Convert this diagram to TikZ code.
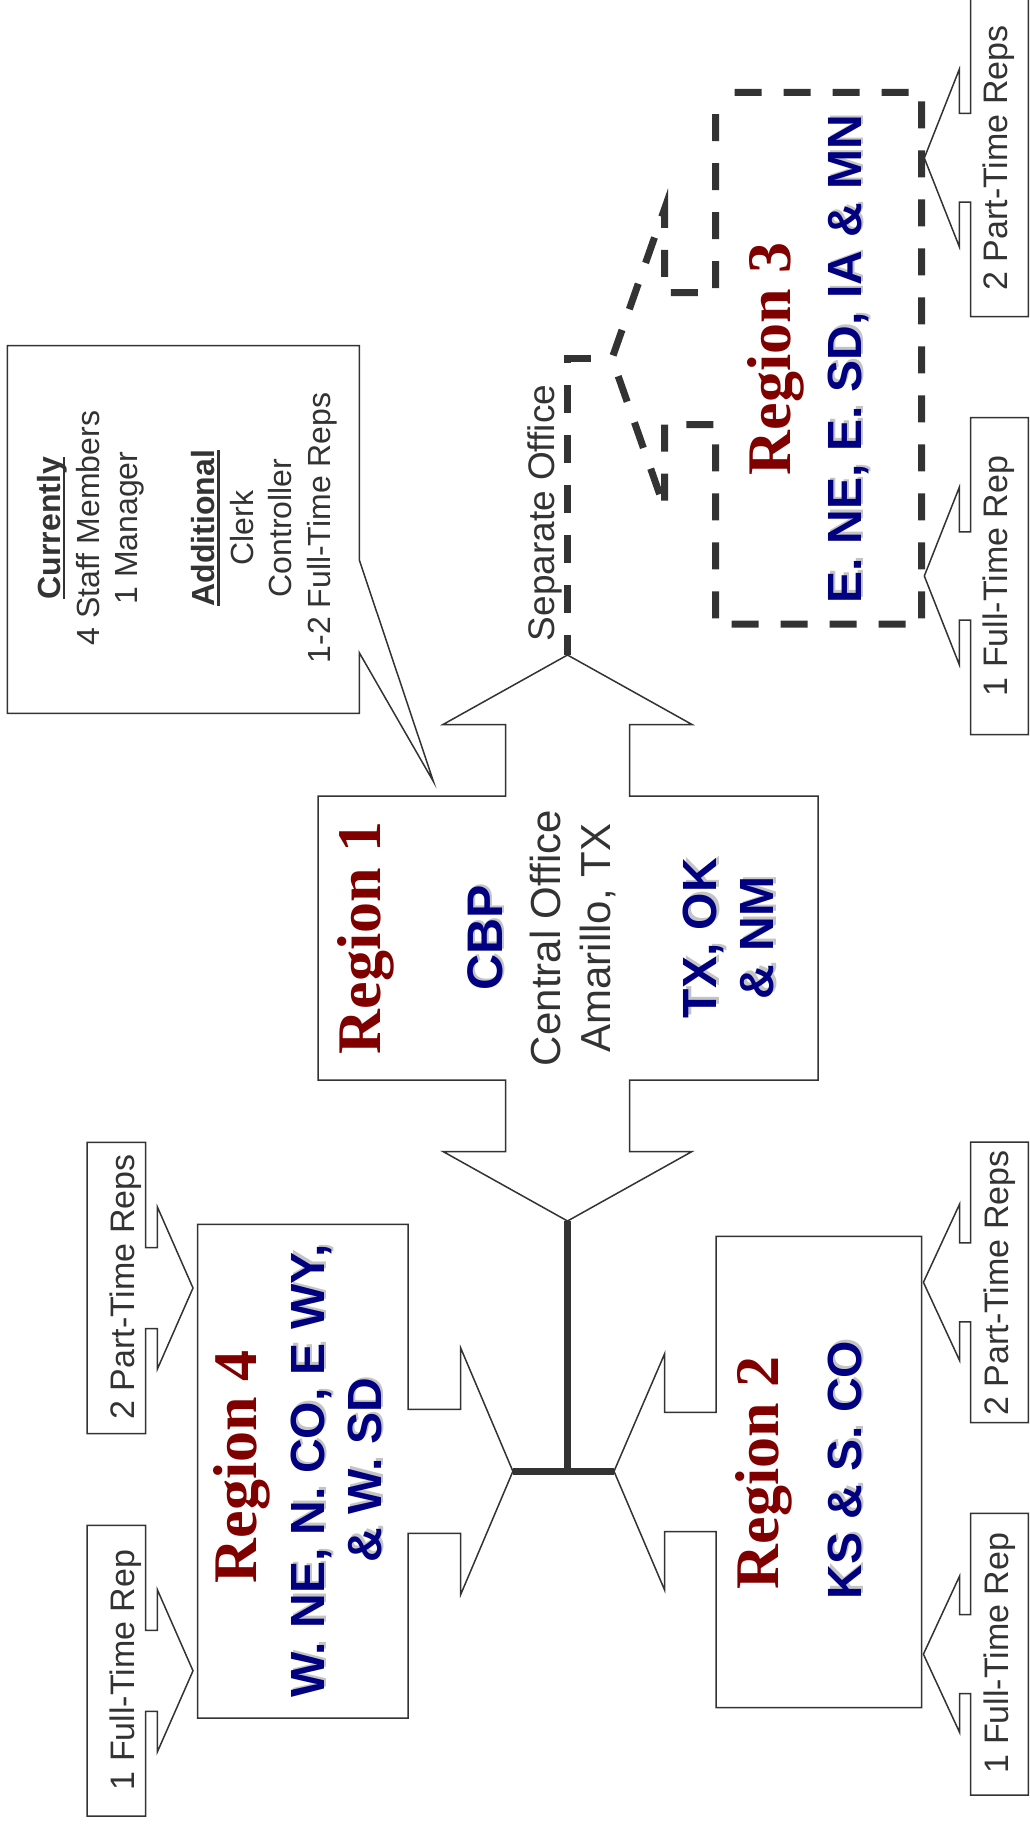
\documentclass[tikz,border=0pt]{standalone}
\usepackage{fontspec}
\setmainfont{Liberation Sans}
\newfontfamily\serifbf{Liberation Serif}
\definecolor{lc}{HTML}{333333}
\definecolor{dred}{HTML}{800000}
\definecolor{navyc}{HTML}{000080}
\definecolor{shd}{HTML}{C4C4C4}
\newcommand\myul[1]{\setbox0\hbox{#1}\rlap{\rule[-5pt]{\wd0}{2.4pt}}\box0}
\newcommand\stext[4]{\node[#1,text=shd] at ([shift={(2.5,-2.5)}]#2) {#4};\node[#1] (#3) at (#2) {#4};}
\begin{document}
\begin{tikzpicture}[x=1pt,y=-1pt,
  shp/.style={draw=lc, line width=1.5pt, fill=white, line join=miter, miter limit=30},
  hubline/.style={draw=lc, line width=6.5pt},
  dline/.style={draw=lc, line width=7pt, dash pattern=on 28pt off 22pt},
  rot/.style={rotate=90, anchor=base, inner sep=0pt, outer sep=0pt},
  rlabel/.style={rot, font=\serifbf\bfseries\fontsize{62}{62}\selectfont, text=dred},
  navyt/.style={rot, font=\bfseries\fontsize{48}{48}\selectfont, text=navyc},
  grayt/.style={rot, font=\fontsize{42}{42}\selectfont, text=lc},
  sept/.style={rot, font=\fontsize{37}{37}\selectfont, text=lc},
  sidet/.style={rot, font=\fontsize{34}{34}\selectfont, text=lc},
  stafft/.style={rot, font=\fontsize{32}{32}\selectfont, text=lc},
]
\useasboundingbox (0,0) rectangle (1029,1825);
\fill[white] (0,0) rectangle (1029,1825);

% ---- staff callout
\draw[shp] (7.3,345.7) -- (359.3,345.7) -- (359.3,560) -- (433.5,781.7) coordinate (ctip)
  -- (359.3,652.7) -- (359.3,713.3) -- (7.3,713.3) -- cycle;
\node[stafft] (s1) at (60,528) {\bfseries\myul{Currently}};
\node[stafft] (s2) at (99,528) {4 Staff Members};
\node[stafft] (s3) at (137.5,528) {1 Manager};
\node[stafft] (s4) at (214.5,528) {\bfseries\myul{Additional}};
\node[stafft] (s5) at (253,528) {Clerk};
\node[stafft] (s6) at (291.5,528) {Controller};
\node[stafft] (s7) at (330,528) {1-2 Full-Time Reps};

% ---- Region 1
\draw[shp] (318,796) -- (505.5,796) -- (505.5,724.5) -- (443,724.5) -- (567.5,655) coordinate (r1top)
  -- (692,724.5) -- (629.5,724.5) -- (629.5,796) -- (818,796) -- (818,1080)
  -- (629.5,1080) -- (629.5,1151.5) -- (692,1151.5) -- (567.5,1221) coordinate (r1bot)
  -- (443,1151.5) -- (505.5,1151.5) -- (505.5,1080) -- (318,1080) -- cycle;
\node[rlabel] (r1lab) at (380,938) {Region 1};
\stext{navyt}{502,938}{r1cbp}{\fontsize{50}{50}\selectfont CBP}
\node[grayt] (r1co) at (560,938) {Central Office};
\node[grayt] (r1am) at (610.5,938) {Amarillo, TX};
\stext{navyt}{716.5,938}{r1st1}{TX, OK}
\stext{navyt}{773.5,938}{r1st2}{\& NM}

% ---- Region 4
\draw[shp] (197.7,1224.4) -- (408,1224.4) -- (408,1409.3) -- (460.7,1409.3) -- (460.7,1348)
  -- (512.9,1471.3) coordinate (r4tip) -- (460.7,1594.5) -- (460.7,1533.4) -- (408,1533.4)
  -- (408,1718.2) -- (197.7,1718.2) -- cycle;
\node[rlabel] (r4lab) at (256.5,1467) {Region 4};
\stext{navyt}{324,1471}{r4st1}{W. NE, N. CO, E WY,}
\stext{navyt}{381,1470}{r4st2}{\& W. SD}

% ---- Region 2
\draw[shp] (716,1236.4) -- (921.7,1236.4) -- (921.7,1707.6) -- (716,1707.6) -- (716,1531.6)
  -- (664.6,1531.6) -- (664.6,1590) -- (614,1471.3) coordinate (r2tip) -- (664.6,1353.8)
  -- (664.6,1412.4) -- (716,1412.4) -- cycle;
\node[rlabel] (r2lab) at (778,1473) {Region 2};
\stext{navyt}{861,1470}{r2st}{KS \& S. CO}

% ---- Region 3 (dashed)
\draw[draw=lc, line width=7pt, dash pattern=on 27pt off 22pt, dash phase=30pt, fill=white]
  (715.5,92.5) -- (921.7,92.5) -- (921.7,624.2) -- (715.5,624.2) -- (715.5,424.5)
  -- (664.5,424.5) -- (664.5,508) -- (612,358.5) coordinate (r3tip) -- (664.5,209)
  -- (664.5,292.5) -- (715.5,292.5) -- cycle;
\node[rlabel] (r3lab) at (790,359) {Region 3};
\stext{navyt}{861,359}{r3st}{E. NE, E. SD, IA \& MN}

% ---- connectors
\coordinate (hub) at (567.5,1471.3);
\draw[hubline] (r1bot) -- (hub);
\draw[hubline] (r4tip) -- (r2tip);
\draw[dline, dash phase=8pt] (r1top) |- (r3tip);
\node[sept] (sep) at (554,513) {Separate Office};

% ---- side callouts, Region 3
\draw[shp] (970.7,-1) -- (1028.3,-1) -- (1028.3,316.7) -- (970.7,316.7) -- (970.7,202)
  -- (959.3,202) -- (959.3,246.7) -- (924.3,158) coordinate (p3a) -- (959.3,69.3)
  -- (959.3,113.5) -- (970.7,113.5) -- cycle;
\node[sidet] (t3a) at (1007,158) {2 Part-Time Reps};
\draw[shp] (970.7,417.5) -- (1028.3,417.5) -- (1028.3,734.5) -- (970.7,734.5) -- (970.7,620.2)
  -- (959.3,620.2) -- (959.3,664.7) -- (924.3,576) coordinate (p3b) -- (959.3,487.3)
  -- (959.3,531.8) -- (970.7,531.8) -- cycle;
\node[sidet] (t3b) at (1007,576) {1 Full-Time Rep};

% ---- side callouts, Region 2
\draw[shp] (970.6,1142) -- (1028.3,1142) -- (1028.3,1422.6) -- (970.6,1422.6) -- (970.6,1321.8)
  -- (959.5,1321.8) -- (959.5,1360.3) -- (923.4,1282.3) coordinate (p2a) -- (959.5,1204.3)
  -- (959.5,1242.8) -- (970.6,1242.8) -- cycle;
\node[sidet] (t2a) at (1008,1283) {2 Part-Time Reps};
\draw[shp] (970.6,1513.4) -- (1028.3,1513.4) -- (1028.3,1795) -- (970.6,1795) -- (970.6,1693.7)
  -- (959.5,1693.7) -- (959.5,1732.2) -- (923.4,1654.2) coordinate (p2b) -- (959.5,1576.2)
  -- (959.5,1614.7) -- (970.6,1614.7) -- cycle;
\node[sidet] (t2b) at (1008,1653) {1 Full-Time Rep};

% ---- side callouts, Region 4
\draw[shp] (87,1142.4) -- (145.5,1142.4) -- (145.5,1247.5) -- (157.4,1247.5) -- (157.4,1207)
  -- (193,1288) coordinate (p4a) -- (157.4,1369) -- (157.4,1328.5) -- (145.5,1328.5)
  -- (145.5,1433.6) -- (87,1433.6) -- cycle;
\node[sidet] (t4a) at (134,1287) {2 Part-Time Reps};
\draw[shp] (87,1525.4) -- (145.5,1525.4) -- (145.5,1630.3) -- (157.4,1630.3) -- (157.4,1589.8)
  -- (193,1670.8) coordinate (p4b) -- (157.4,1751.8) -- (157.4,1711.3) -- (145.5,1711.3)
  -- (145.5,1816.2) -- (87,1816.2) -- cycle;
\node[sidet] (t4b) at (134,1670) {1 Full-Time Rep};
\end{tikzpicture}
\end{document}
